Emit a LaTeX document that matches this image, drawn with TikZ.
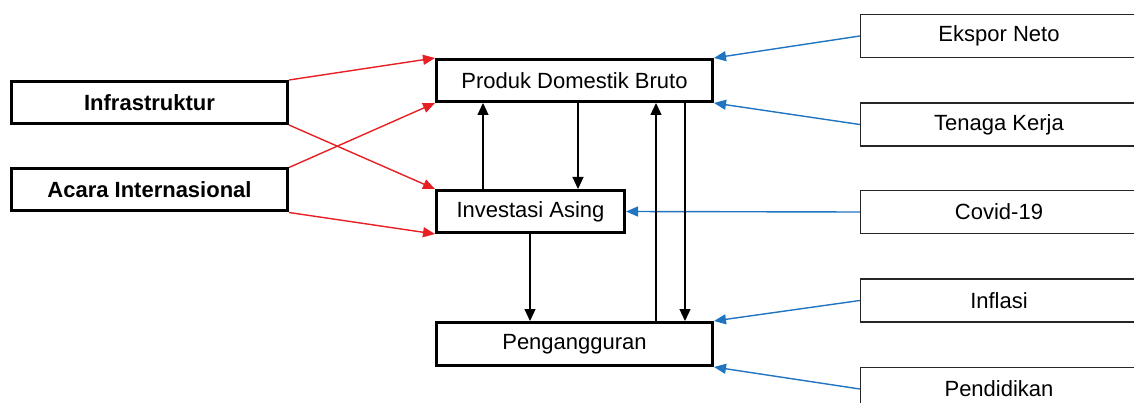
\documentclass[tikz,border=0pt]{standalone}
\usepackage{fontspec}
\setmainfont{Liberation Sans}
\usetikzlibrary{arrows.meta}
\definecolor{linkred}{RGB}{232,32,36}
\definecolor{linkblue}{RGB}{32,116,192}
\begin{document}
\begin{tikzpicture}[x=1pt,y=-1pt,
  every node/.style={font=\fontsize{22}{26}\selectfont, inner sep=0pt},
  mainbox/.style={draw=black, line width=3pt, minimum width=276pt, minimum height=42pt},
  factorbox/.style={draw=black!85, line width=1.4pt, minimum width=277pt, minimum height=43pt},
  redlink/.style={draw=linkred, line width=1.4pt, -{Triangle[length=12pt,width=10pt]}},
  bluelink/.style={draw=linkblue, line width=1.4pt, -{Triangle[length=12pt,width=10pt]}},
  blacklink/.style={draw=black, line width=1.2pt, -{Triangle[length=12pt,width=11pt]}}
]
\useasboundingbox (0,0) rectangle (1134,403);

% left drivers
\node[mainbox, font=\fontsize{22}{26}\selectfont\bfseries] (infra) at (149.5,102.5) {Infrastruktur};
\node[mainbox, font=\fontsize{22}{26}\selectfont\bfseries] (acara) at (149.5,190) {Acara Internasional};

% central variables
\node[mainbox] (pdb) at (574.5,80.5) {Produk Domestik Bruto};
\node[mainbox, minimum width=188pt] (inv) at (530.5,211.5) {Investasi Asing};
\node[mainbox, minimum height=43pt] (peng) at (574.5,344) {Pengangguran};

% right drivers
\node[factorbox] (ekspor) at (999,36) {Ekspor Neto};
\node[factorbox] (tenaga) at (999,124.5) {Tenaga Kerja};
\node[factorbox] (covid) at (999,212) {Covid-19};
\node[factorbox] (inflasi) at (999,300.5) {Inflasi};
\node[factorbox] (pend) at (999,389) {Pendidikan};

% red links
\draw[redlink] (infra.north east) -- (pdb.north west);
\draw[redlink] (infra.south east) -- (inv.north west);
\draw[redlink] (acara.north east) -- (pdb.south west);
\draw[redlink] (acara.south east) -- (inv.south west);

% blue links
\draw[bluelink] (ekspor.west) -- (pdb.north east);
\draw[bluelink] (tenaga.west) -- (pdb.south east);
\draw[bluelink] (covid.west) -- (inv.east);
\draw[bluelink] (inflasi.west) -- (peng.north east);
\draw[bluelink] (pend.west) -- (peng.south east);

% black links between central variables
\draw[blacklink] (483,0 |- inv.north) -- (483,0 |- pdb.south);
\draw[blacklink] (578,0 |- pdb.south) -- (578,0 |- inv.north);
\draw[blacklink] (530,0 |- inv.south) -- (530,0 |- peng.north);
\draw[blacklink] (656,0 |- peng.north) -- (656,0 |- pdb.south);
\draw[blacklink] (685,0 |- pdb.south) -- (685,0 |- peng.north);
\end{tikzpicture}
\end{document}
